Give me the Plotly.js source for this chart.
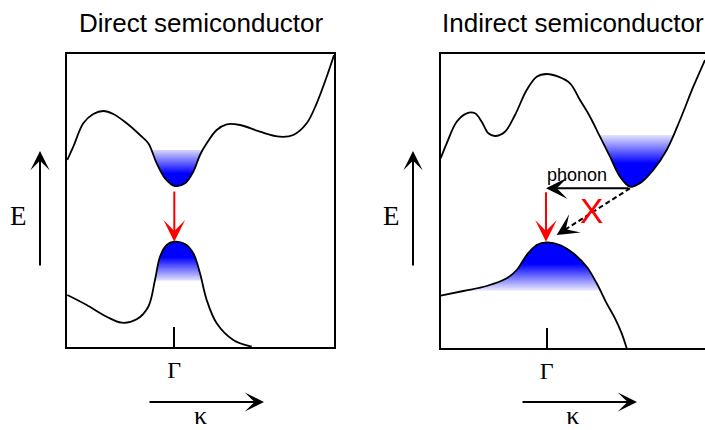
<!DOCTYPE html>
<html><head><meta charset="utf-8">
<script src="https://cdn.plot.ly/plotly-3.0.1.min.js"></script>
<style>html,body{margin:0;padding:0;background:#fff}#chart{width:705px;height:430px}</style>
</head><body><div id="chart"></div>
<script>
// ---- text ----
const panelTitles = ['Direct semiconductor', 'Indirect semiconductor'];
const gammaLabel = 'Γ';
const kLabel = 'κ';
const eLabel = 'E';
const phononLabel = 'phonon';
const forbiddenLabel = 'X';

// ---- Direct semiconductor (k, E in arbitrary units) ----
const dirCondK = [0.3, 6.3, 16.3, 26.3, 36.3, 46.3, 59.7, 73, 81.3, 89.7, 98, 108, 118, 126.3, 133, 139.7, 149.7, 159.7, 173, 193, 213, 226.3, 239.7, 249.7, 259.7, 267];
const dirCondE = [187, 200.3, 223.7, 233, 236, 233, 223.7, 212, 203.7, 183.7, 168.7, 161, 163.7, 175.3, 192, 203.7, 217, 222.7, 222, 215.3, 210.3, 212, 223.7, 243.7, 270.3, 292];
const dirValK = [0.3, 19.7, 39.7, 54.7, 69.7, 81.3, 88, 93, 99.7, 107.3, 118, 126.3, 133, 139.7, 149.7, 166.3, 184.7];
const dirValE = [52, 42, 30.3, 24.3, 27.7, 40.3, 67, 90.3, 102, 105.3, 103, 93.7, 73.7, 47, 23.7, 7, 0.3];
const dirCondFillLevel = 197;
const dirValFillLevel = 66.3;
const dirGammaK = 107.3;

// ---- Indirect semiconductor ----
const indCondK = [0.2, 6.2, 16.2, 26.2, 34.5, 41.2, 47.8, 54.5, 64.5, 74.5, 86.2, 96.2, 106.2, 117.8, 129.5, 139.5, 149.5, 159.5, 169.5, 179.5, 189.5, 199.5, 212.8, 226.2, 239.5, 252.8, 264.5];
const indCondE = [189.7, 204.7, 226.3, 234.7, 234.7, 226.3, 214.7, 212, 216.3, 233, 258, 271.3, 274, 271.3, 264.7, 248, 231.3, 211.3, 191.3, 171.3, 161.3, 164.7, 178, 198, 228, 261.3, 288];
const indValK = [0.2, 22.8, 46.2, 66.2, 76.2, 86.2, 96.2, 106.2, 119.5, 132.8, 146.2, 156.2, 166.2, 174.5, 181.2, 186.2];
const indValE = [52.3, 57, 62, 69.7, 78, 93, 103, 105.7, 103, 94.7, 81.3, 64.7, 44.7, 29.7, 14.7, -0.3];
const indCondFillLevel = 213;
const indValFillLevel = 57.3;
const indGammaK = 106.2;
// transitions
const phononFrom = [189.5, 159.7], phononTo = [105.5, 159.7];
const indRadFrom = [105.5, 157.3], indRadTo = [105.5, 106.3];
const dashFrom = [189.5, 159.7], dashTo = [116.2, 113];
const dirRadFrom = [107.3, 157], dirRadTo = [107.3, 105.3];

// ---- helpers ----
function bandFill(k, e, level, conduction) {
  const inside = v => conduction ? v < level : v > level;
  let i0 = 0;
  for (let i = 1; i < e.length; i++) {
    if (conduction ? e[i] < e[i0] : e[i] > e[i0]) i0 = i;
  }
  let l = i0, r = i0;
  while (l > 0 && inside(e[l - 1])) l--;
  while (r < e.length - 1 && inside(e[r + 1])) r++;
  const cross = (a, b) => {
    const t = (level - e[a]) / (e[b] - e[a]);
    return k[a] + t * (k[b] - k[a]);
  };
  const xs = [], ys = [];
  if (l > 0) { xs.push(cross(l - 1, l)); ys.push(level); }
  for (let i = l; i <= r; i++) { xs.push(k[i]); ys.push(e[i]); }
  if (r < e.length - 1) { xs.push(cross(r, r + 1)); ys.push(level); }
  return {xs, ys, extreme: e[i0]};
}

const BLUE = 'rgb(0,0,255)';
function fillTrace(k, e, level, conduction, xa, ya, solidFrac, paleColor) {
  const f = bandFill(k, e, level, conduction);
  const cs = conduction
    ? [[0, BLUE], [solidFrac, BLUE], [1, paleColor]]
    : [[0, paleColor], [1 - solidFrac, BLUE], [1, BLUE]];
  return {
    x: f.xs, y: f.ys, xaxis: xa, yaxis: ya, type: 'scatter', mode: 'lines',
    fill: 'toself', line: {width: 0, shape: 'spline', color: 'rgba(0,0,0,0)'},
    fillgradient: {type: 'vertical', colorscale: cs,
      start: conduction ? f.extreme : level, stop: conduction ? level : f.extreme},
    hoverinfo: 'skip', showlegend: false
  };
}
function curve(k, e, xa, ya) {
  return {x: k, y: e, xaxis: xa, yaxis: ya, type: 'scatter', mode: 'lines',
    line: {color: 'black', width: 1.8, shape: 'spline'}, hoverinfo: 'skip', showlegend: false};
}

const traces = [
  fillTrace(dirCondK, dirCondE, dirCondFillLevel, true, 'x', 'y', 0.35, 'rgb(215,215,255)'),
  fillTrace(dirValK, dirValE, dirValFillLevel, false, 'x', 'y', 0.4, 'rgb(228,228,255)'),
  fillTrace(indCondK, indCondE, indCondFillLevel, true, 'x2', 'y2', 0.45, 'rgb(228,228,255)'),
  fillTrace(indValK, indValE, indValFillLevel, false, 'x2', 'y2', 0.45, 'rgb(235,235,255)'),
  curve(dirCondK, dirCondE, 'x', 'y'),
  curve(dirValK, dirValE, 'x', 'y'),
  curve(indCondK, indCondE, 'x2', 'y2'),
  curve(indValK, indValE, 'x2', 'y2'),
  {x: [dashFrom[0], dashTo[0] + 0.1 * (dashFrom[0] - dashTo[0])],
   y: [dashFrom[1], dashTo[1] + 0.1 * (dashFrom[1] - dashTo[1])],
   xaxis: 'x2', yaxis: 'y2', type: 'scatter', mode: 'lines',
   line: {color: 'black', width: 2, dash: '5px,3px'}, hoverinfo: 'skip', showlegend: false}
];

const W = 705, H = 430;
const serif = 'Liberation Serif, Times New Roman, serif';
const sans = 'Liberation Sans, Arial, sans-serif';

function xAxisCfg(domain, range, gammaK) {
  return {domain, range, showline: true, mirror: true, linecolor: 'black', linewidth: 2,
    showgrid: false, zeroline: false, tickmode: 'array', tickvals: [gammaK], ticktext: [gammaLabel],
    ticks: 'inside', ticklen: 20, tickwidth: 2, tickcolor: 'black',
    tickfont: {family: serif, size: 24, color: 'black'}, ticklabelstandoff: 0,
    title: {text: kLabel, font: {family: serif, size: 26, color: 'black'}, standoff: 36},
    fixedrange: true};
}
function yAxisCfg(domain, range, mirror) {
  return {domain, range, showline: true, mirror, linecolor: 'black', linewidth: 2,
    showgrid: false, zeroline: false, showticklabels: false, ticks: '', fixedrange: true};
}

function dataArrow(from, to, xa, ya, color) {
  return {x: to[0], y: to[1], ax: from[0], ay: from[1], xref: xa, yref: ya, axref: xa, ayref: ya,
    text: '', showarrow: true, arrowhead: 3, arrowsize: 1.8, arrowwidth: 2, arrowcolor: color};
}
function paperArrow(xpx, ypx, dx, dy) {
  return {x: xpx / W, y: 1 - ypx / H, xref: 'paper', yref: 'paper', ax: dx, ay: dy,
    text: '', showarrow: true, arrowhead: 3, arrowsize: 1.6, arrowwidth: 2, arrowcolor: 'black'};
}
function paperText(txt, xpx, ypx, font) {
  return {x: xpx / W, y: 1 - ypx / H, xref: 'paper', yref: 'paper', text: txt, showarrow: false,
    xanchor: 'center', yanchor: 'middle', font};
}

const annotations = [
  paperText(panelTitles[0], 201, 23, {family: sans, size: 26, color: 'black'}),
  paperText(panelTitles[1], 573, 23, {family: sans, size: 26, color: 'black'}),
  paperText(eLabel, 18.5, 216, {family: serif, size: 27, color: 'black'}),
  paperText(eLabel, 391.5, 216, {family: serif, size: 27, color: 'black'}),
  paperArrow(40, 151, 0, 116),
  paperArrow(413, 151, 0, 116),
  paperArrow(264, 402, -116, 0),
  paperArrow(637, 402, -116, 0),
  dataArrow(dirRadFrom, dirRadTo, 'x', 'y', 'red'),
  dataArrow(indRadFrom, indRadTo, 'x2', 'y2', 'red'),
  dataArrow(phononFrom, phononTo, 'x2', 'y2', 'black'),
  {x: dashTo[0], y: dashTo[1], ax: dashTo[0] + 0.16 * (dashFrom[0] - dashTo[0]),
   ay: dashTo[1] + 0.16 * (dashFrom[1] - dashTo[1]), xref: 'x2', yref: 'y2', axref: 'x2', ayref: 'y2',
   text: '', showarrow: true, arrowhead: 3, arrowsize: 1.8, arrowwidth: 2, arrowcolor: 'black'},
  {x: 136, y: 173, xref: 'x2', yref: 'y2', text: phononLabel, showarrow: false,
   xanchor: 'center', yanchor: 'middle', font: {family: sans, size: 18, color: 'black'}},
  {x: 151.2, y: 137.5, xref: 'x2', yref: 'y2', text: forbiddenLabel, showarrow: false,
   xanchor: 'center', yanchor: 'middle', font: {family: sans, size: 35, color: 'red'}}
];

const layout = {
  width: W, height: H, margin: {l: 0, r: 0, t: 0, b: 0},
  paper_bgcolor: 'white', plot_bgcolor: 'white', showlegend: false,
  xaxis: Object.assign(xAxisCfg([67 / W, 334 / W], [0, 267], dirGammaK), {anchor: 'y'}),
  yaxis: Object.assign(yAxisCfg([83 / H, 376 / H], [0, 293], true), {anchor: 'x'}),
  xaxis2: Object.assign(xAxisCfg([440.5 / W, 1], [0, 264.5], indGammaK), {anchor: 'y2'}),
  yaxis2: Object.assign(yAxisCfg([82 / H, 376 / H], [0, 294], false), {anchor: 'x2'}),
  annotations
};

Plotly.newPlot('chart', traces, layout, {staticPlot: true, displayModeBar: false});
</script>
</body></html>
